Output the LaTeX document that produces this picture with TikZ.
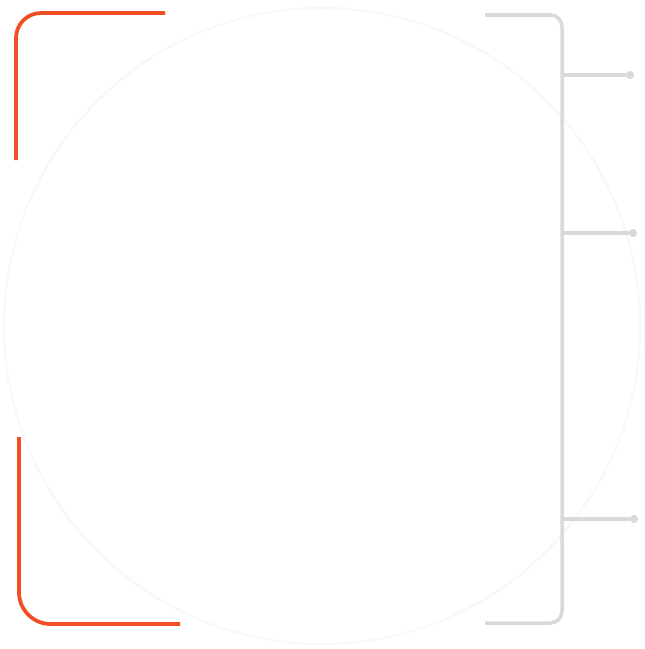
\documentclass[tikz,border=0pt]{standalone}
\usetikzlibrary{calc}
\definecolor{bracketorange}{HTML}{F04E23}
\definecolor{bracketgray}{HTML}{D9D9D9}
\definecolor{ringgray}{HTML}{F8F8F8}
\begin{document}
\begin{tikzpicture}[x=0.03cm,y=-0.03cm]
    \tikzstyle{tip}=[circle,fill=bracketgray,minimum size=7pt,inner sep=0pt]
    \tikzstyle{orangeline}=[draw=bracketorange,line width=3.2pt]
    \tikzstyle{grayline}=[draw=bracketgray,line width=3pt]
    \useasboundingbox (0,0) rectangle (644,649);
    % faint ring behind
    \coordinate (c) at (322,326);
    \draw[ringgray,line width=2pt] (c) circle[radius=318];
    % left bracket
    \coordinate (lt) at (165,13);
    \coordinate (ltc) at (16,13);
    \coordinate (lm1) at (16,160);
    \coordinate (lm2) at (19,437);
    \coordinate (lbc) at (19,624);
    \coordinate (lb) at (180,624);
    \draw[orangeline,rounded corners=0.75cm] (lt) -- (ltc) -- (lm1);
    \draw[orangeline,rounded corners=0.95cm] (lm2) -- (lbc) -- (lb);
    % right bracket
    \coordinate (rt) at (485,15);
    \coordinate (rtc) at (562,15);
    \coordinate (rbc) at (562,623);
    \coordinate (rb) at (485,623);
    \draw[grayline,rounded corners=0.35cm] (rt) -- (rtc) -- (rbc) -- (rb);
    \node[tip] (t1) at (630,75) {};
    \node[tip] (t2) at (633,233) {};
    \node[tip] (t3) at (634,519) {};
    \draw[grayline] (t1) -- (t1 -| rtc);
    \draw[grayline] (t2) -- (t2 -| rtc);
    \draw[grayline] (t3) -- (t3 -| rtc);
\end{tikzpicture}
\end{document}
